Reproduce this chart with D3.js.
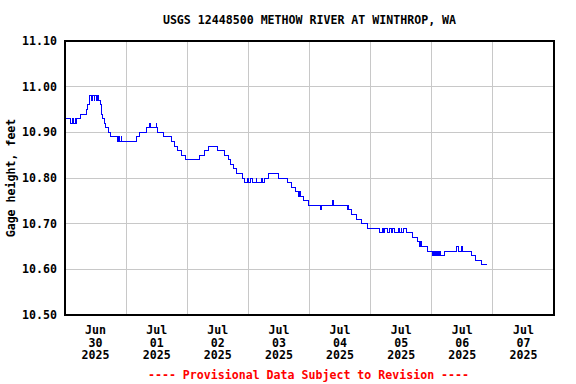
<!DOCTYPE html>
<html>
<head>
<meta charset="utf-8">
<script src="https://cdn.jsdelivr.net/npm/d3@7"></script>
<style>
	body { margin: 0; background: #fff; }
	text { font-family: "DejaVu Sans Mono", monospace; font-weight: bold; font-size: 11.6px; }
</style>
</head>
<body>
<div id="chart"></div>
<script>
let chartTitle = "USGS 12448500 METHOW RIVER AT WINTHROP, WA";
let yAxisTitle = "Gage height, feet";
let footNote = "---- Provisional Data Subject to Revision ----";
let yTicks = [10.5, 10.6, 10.7, 10.8, 10.9, 11.0, 11.1];
let dayTicks = ["2025-06-30", "2025-07-01", "2025-07-02", "2025-07-03", "2025-07-04", "2025-07-05", "2025-07-06", "2025-07-07"];
let dayEnd = "2025-07-08";

/* 15-minute gage readings, only where the value changes */
let readings = [
	["2025-06-30 00:00", 10.93], ["2025-06-30 02:15", 10.92], ["2025-06-30 02:45", 10.93],
	["2025-06-30 03:30", 10.92], ["2025-06-30 04:00", 10.93], ["2025-06-30 04:15", 10.92],
	["2025-06-30 04:30", 10.93], ["2025-06-30 06:15", 10.94], ["2025-06-30 08:15", 10.95],
	["2025-06-30 09:00", 10.96], ["2025-06-30 09:30", 10.98], ["2025-06-30 10:30", 10.97],
	["2025-06-30 10:45", 10.98], ["2025-06-30 11:30", 10.97], ["2025-06-30 11:45", 10.98],
	["2025-06-30 12:30", 10.97], ["2025-06-30 12:45", 10.98], ["2025-06-30 13:15", 10.97],
	["2025-06-30 14:00", 10.96], ["2025-06-30 14:15", 10.94], ["2025-06-30 14:45", 10.93],
	["2025-06-30 15:30", 10.92], ["2025-06-30 16:00", 10.91], ["2025-06-30 17:00", 10.90],
	["2025-06-30 18:00", 10.89], ["2025-06-30 20:45", 10.88], ["2025-06-30 21:00", 10.89],
	["2025-06-30 21:30", 10.88], ["2025-06-30 22:00", 10.89], ["2025-06-30 22:15", 10.88],
	["2025-07-01 04:15", 10.89], ["2025-07-01 05:15", 10.90], ["2025-07-01 08:00", 10.91],
	["2025-07-01 09:15", 10.92], ["2025-07-01 09:30", 10.91], ["2025-07-01 11:45", 10.92],
	["2025-07-01 12:00", 10.91], ["2025-07-01 12:30", 10.90], ["2025-07-01 14:45", 10.89],
	["2025-07-01 18:00", 10.88], ["2025-07-01 19:00", 10.87], ["2025-07-01 20:15", 10.86],
	["2025-07-01 21:45", 10.85], ["2025-07-01 23:30", 10.84], ["2025-07-02 04:45", 10.85],
	["2025-07-02 06:45", 10.86], ["2025-07-02 08:30", 10.87], ["2025-07-02 12:00", 10.86],
	["2025-07-02 14:45", 10.85], ["2025-07-02 16:15", 10.84], ["2025-07-02 17:00", 10.83],
	["2025-07-02 18:00", 10.82], ["2025-07-02 19:30", 10.81], ["2025-07-02 21:30", 10.80],
	["2025-07-02 22:30", 10.79], ["2025-07-02 23:45", 10.80], ["2025-07-03 00:00", 10.79],
	["2025-07-03 01:00", 10.80], ["2025-07-03 01:45", 10.79], ["2025-07-03 03:00", 10.80],
	["2025-07-03 03:15", 10.79], ["2025-07-03 05:15", 10.80], ["2025-07-03 05:30", 10.79],
	["2025-07-03 06:15", 10.80], ["2025-07-03 07:45", 10.81], ["2025-07-03 11:45", 10.80],
	["2025-07-03 15:30", 10.79], ["2025-07-03 17:00", 10.78], ["2025-07-03 18:30", 10.77],
	["2025-07-03 19:45", 10.76], ["2025-07-03 20:00", 10.77], ["2025-07-03 20:30", 10.76],
	["2025-07-03 21:45", 10.75], ["2025-07-03 23:45", 10.74], ["2025-07-04 04:30", 10.73],
	["2025-07-04 04:45", 10.74], ["2025-07-04 09:00", 10.75], ["2025-07-04 09:15", 10.74],
	["2025-07-04 14:45", 10.73], ["2025-07-04 15:15", 10.74], ["2025-07-04 15:30", 10.73],
	["2025-07-04 16:30", 10.72], ["2025-07-04 18:30", 10.71], ["2025-07-04 20:30", 10.70],
	["2025-07-04 22:45", 10.69], ["2025-07-05 03:30", 10.68], ["2025-07-05 04:30", 10.69],
	["2025-07-05 05:00", 10.68], ["2025-07-05 05:30", 10.69], ["2025-07-05 06:30", 10.68],
	["2025-07-05 07:15", 10.69], ["2025-07-05 08:15", 10.68], ["2025-07-05 08:30", 10.69],
	["2025-07-05 09:30", 10.68], ["2025-07-05 10:45", 10.69], ["2025-07-05 11:30", 10.68],
	["2025-07-05 12:00", 10.69], ["2025-07-05 12:15", 10.68], ["2025-07-05 12:45", 10.69],
	["2025-07-05 14:00", 10.68], ["2025-07-05 16:30", 10.67], ["2025-07-05 18:30", 10.66],
	["2025-07-05 19:00", 10.65], ["2025-07-05 19:15", 10.66], ["2025-07-05 19:30", 10.65],
	["2025-07-05 19:45", 10.66], ["2025-07-05 20:00", 10.65], ["2025-07-05 22:15", 10.64],
	["2025-07-06 00:15", 10.63], ["2025-07-06 00:30", 10.64], ["2025-07-06 01:00", 10.63],
	["2025-07-06 01:30", 10.64], ["2025-07-06 01:45", 10.63], ["2025-07-06 02:15", 10.64],
	["2025-07-06 02:30", 10.63], ["2025-07-06 03:00", 10.64], ["2025-07-06 03:15", 10.63],
	["2025-07-06 05:00", 10.64], ["2025-07-06 09:45", 10.65], ["2025-07-06 10:30", 10.64],
	["2025-07-06 11:30", 10.65], ["2025-07-06 12:15", 10.64], ["2025-07-06 15:30", 10.63],
	["2025-07-06 17:15", 10.62], ["2025-07-06 19:30", 10.61], ["2025-07-06 21:45", 10.61]
];

let W = 576, H = 384;
let plot = {L: 65, R: 554, T: 41, B: 315};

let parseTime = d3.timeParse("%Y-%m-%d %H:%M");
let parseDay = d3.timeParse("%Y-%m-%d");
let data = readings.map((r) => ({t: parseTime(r[0]), v: r[1]}));
let days = dayTicks.map(parseDay);

let svg = d3.select("#chart").append("svg")
	.attr("width", W)
	.attr("height", H);

let x = d3.scaleTime()
	.domain([days[0], parseDay(dayEnd)])
	.range([plot.L, plot.R]);
let y = d3.scaleLinear()
	.domain([10.5, 11.1])
	.range([plot.B, plot.T]);

/* grid */
let grid = svg.append("g")
	.attr("stroke", "#c8c8c8")
	.attr("stroke-width", 1)
	.attr("shape-rendering", "crispEdges");
grid.selectAll("line.h")
	.data(yTicks)
	.join("line")
	.attr("class", "h")
	.attr("x1", plot.L).attr("x2", plot.R)
	.attr("y1", (d) => y(d)).attr("y2", (d) => y(d));
grid.selectAll("line.v")
	.data(days.slice(1))
	.join("line")
	.attr("class", "v")
	.attr("x1", (d) => x(d)).attr("x2", (d) => x(d))
	.attr("y1", plot.T).attr("y2", plot.B);

/* data line */
let line = d3.line()
	.x((d) => x(d.t))
	.y((d) => y(d.v))
	.curve(d3.curveStepAfter);
svg.append("path")
	.datum(data)
	.attr("d", line)
	.attr("fill", "none")
	.attr("stroke", "#0000ff")
	.attr("stroke-width", 1)
	.attr("shape-rendering", "crispEdges");

/* frame */
svg.append("rect")
	.attr("x", plot.L).attr("y", plot.T)
	.attr("width", plot.R - plot.L).attr("height", plot.B - plot.T)
	.attr("fill", "none")
	.attr("stroke", "#000")
	.attr("stroke-width", 1.3)
	.attr("shape-rendering", "crispEdges");

/* y labels */
svg.append("g").selectAll("text")
	.data(yTicks)
	.join("text")
	.attr("x", 57)
	.attr("y", (d) => y(d) + 4)
	.attr("text-anchor", "end")
	.text((d) => d3.format(".2f")(d));

/* x labels: centred on noon of each day */
let fmtMon = d3.timeFormat("%b"), fmtDay = d3.timeFormat("%d"), fmtYear = d3.timeFormat("%Y");
let xl = svg.append("g").selectAll("text")
	.data(days)
	.join("text")
	.attr("text-anchor", "middle")
	.attr("transform", (d) => `translate(${x(d3.timeHour.offset(d, 12))},0)`);
[[fmtMon, 334], [fmtDay, 346.7], [fmtYear, 359.4]].forEach(([f, yy]) => {
	xl.append("tspan").attr("x", 0).attr("y", yy).text((d) => f(d));
});

/* titles */
svg.append("text")
	.attr("x", (plot.L + plot.R) / 2)
	.attr("y", 24)
	.attr("text-anchor", "middle")
	.text(chartTitle);
svg.append("text")
	.attr("transform", `translate(15,${(plot.T + plot.B) / 2}) rotate(-90)`)
	.attr("text-anchor", "middle")
	.text(yAxisTitle);
svg.append("text")
	.attr("x", (plot.L + plot.R) / 2 - 1)
	.attr("y", 378.5)
	.attr("text-anchor", "middle")
	.attr("fill", "#ff0000")
	.text(footNote);
</script>
</body>
</html>
